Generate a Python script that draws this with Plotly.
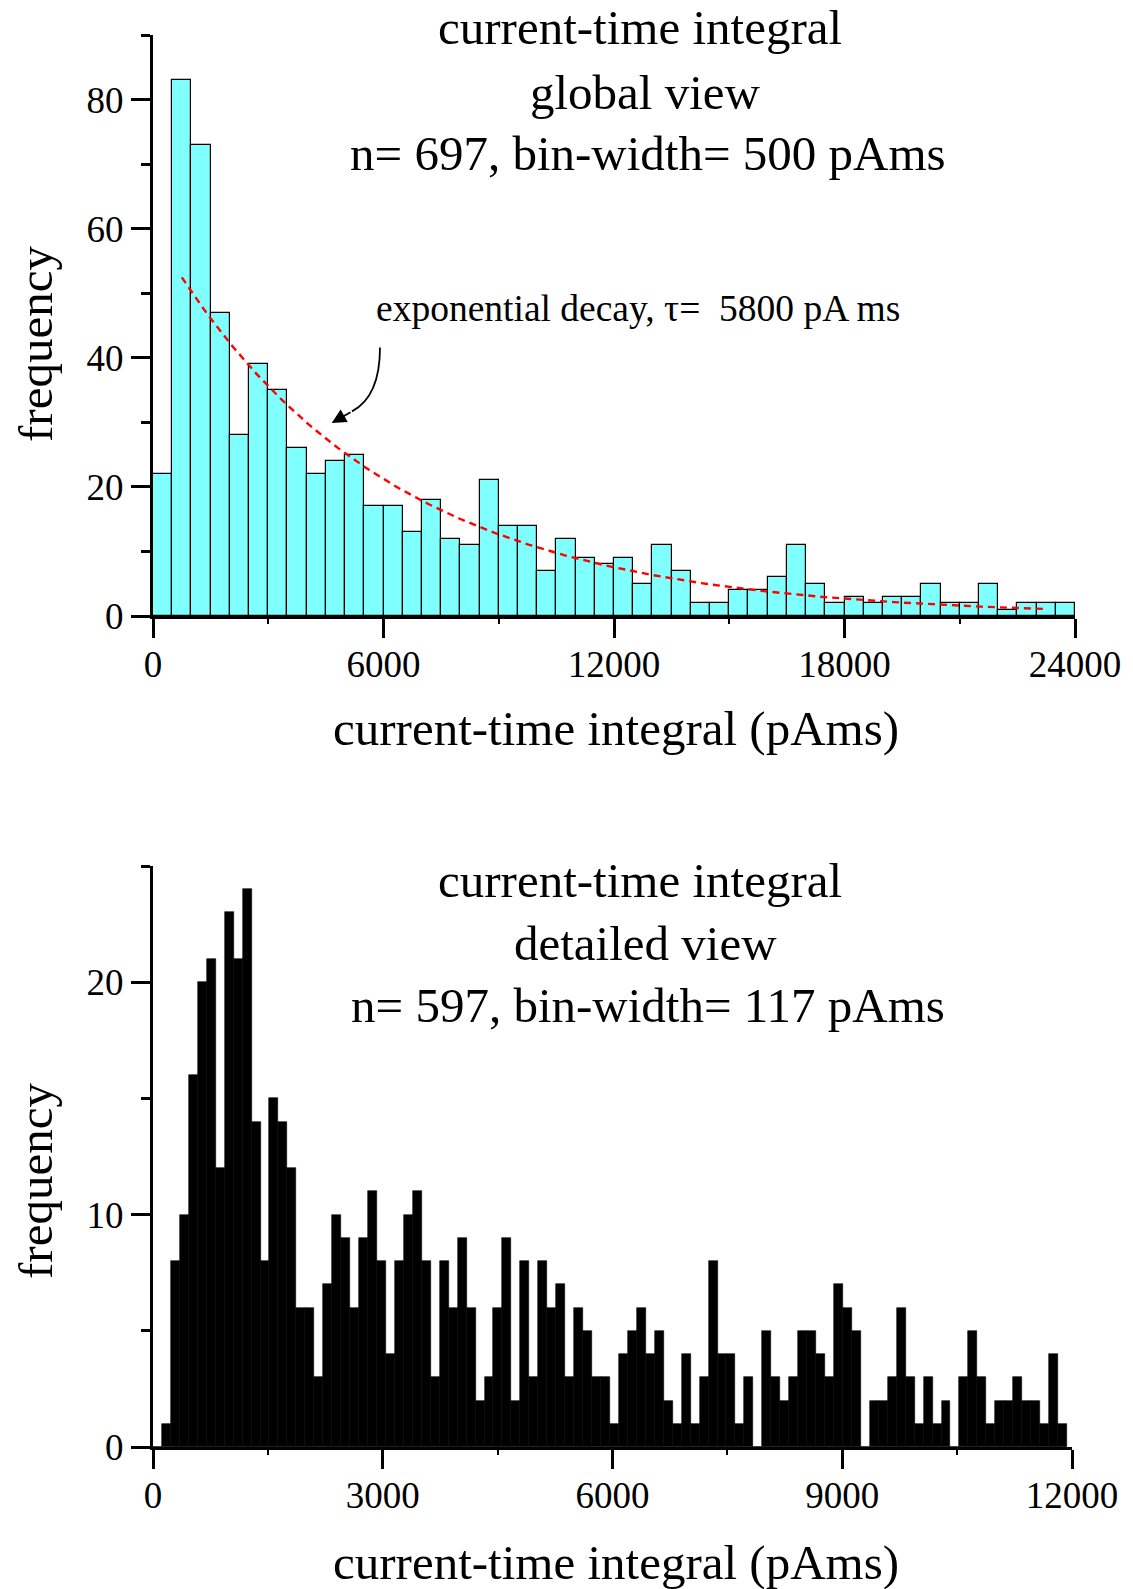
import numpy as np
import plotly.graph_objects as go

# ---------------- data ----------------
# global view: bin width 500 pAms, 0..24000
global_bin_width = 500
global_counts = [22, 83, 73, 47, 28, 39, 35, 26, 22, 24, 25, 17, 17, 13, 18, 12,
                 11, 21, 14, 14, 7, 12, 9, 8,
                 9, 5, 11, 7, 2, 2, 4, 4, 6, 11, 5, 2, 3, 2, 3, 3,
                 5, 2, 2, 5, 1, 2, 2, 2]

# detailed view: bin width 117 pAms, 0..~12000
detail_bin_width = 117
detail_counts = [0, 1, 8, 10, 16, 20, 21, 12, 23, 21, 24, 14, 8, 15, 14, 12,
                 6, 6, 3, 7, 10, 9, 6, 9, 11, 8, 4, 8, 10, 11, 8, 3,
                 8, 6, 9, 6, 2, 3, 6, 9, 2, 8, 3, 8, 6, 7, 3, 6,
                 5, 3, 3, 1, 4, 5, 6, 4, 5, 2, 1, 4, 1, 3, 8, 4,
                 4, 1, 3, 0, 5, 3, 2, 3, 5, 5, 4, 3, 7, 6, 5, 0,
                 2, 2, 3, 6, 3, 1, 3, 1, 2, 0, 3, 5, 3, 1, 2, 2,
                 3, 2, 2, 1, 4, 1]

# exponential decay fit
fit_tau = 5800
fit_amplitude = 59.7
fit_x_start = 750
fit_x_end = 23250

top_xticks = [0, 6000, 12000, 18000, 24000]
top_xticklabels = ["0", "6000", "12000", "18000", "24000"]
top_yticks = [0, 20, 40, 60, 80]
bot_xticks = [0, 3000, 6000, 9000, 12000]
bot_xticklabels = ["0", "3000", "6000", "9000", "12000"]
bot_yticks = [0, 10, 20]

FONT = "Liberation Serif"
W, H = 1133, 1589

g_centers = [global_bin_width * (i + 0.5) for i in range(len(global_counts))]
d_centers = [detail_bin_width * (i + 0.5) for i in range(len(detail_counts))]

fit_x = np.linspace(fit_x_start, fit_x_end, 200)
fit_y = fit_amplitude * np.exp(-fit_x / fit_tau)

fig = go.Figure()
fig.add_trace(go.Bar(x=g_centers, y=global_counts, width=global_bin_width,
                     marker=dict(color="#80FFFF", line=dict(color="black", width=1.2)),
                     xaxis="x", yaxis="y", showlegend=False))
fig.add_trace(go.Scatter(x=fit_x, y=fit_y, mode="lines",
                         line=dict(color="red", width=2.4, dash="7px,5px"),
                         xaxis="x", yaxis="y", showlegend=False))
fig.add_trace(go.Bar(x=d_centers, y=detail_counts, width=detail_bin_width,
                     marker=dict(color="black", line=dict(color="black", width=0.6)),
                     xaxis="x2", yaxis="y2", showlegend=False))


def px_x(p):
    return p / W


def px_y(p):
    return 1 - p / H


axis_common = dict(showgrid=False, zeroline=False, showline=True, linecolor="black",
                   linewidth=3, ticks="outside", tickcolor="black", tickwidth=2.5,
                   ticklen=19, automargin=False,
                   tickfont=dict(family=FONT, size=37, color="black"))

fig.update_layout(
    width=W, height=H, margin=dict(l=0, r=0, t=0, b=0, autoexpand=False),
    paper_bgcolor="white", plot_bgcolor="white", bargap=0,
    xaxis=dict(domain=[px_x(153), px_x(1075)], range=[0, 24000], anchor="y",
               tickvals=top_xticks, ticktext=top_xticklabels, ticklabelstandoff=-5,
               minor=dict(tickvals=[3000, 9000, 15000, 21000], ticklen=5,
                          tickwidth=2, tickcolor="black", ticks="outside"),
               **axis_common),
    yaxis=dict(domain=[px_y(616), px_y(35)], range=[0, 90], anchor="x",
               tickvals=top_yticks, ticklabelstandoff=0,
               minor=dict(tickvals=[10, 30, 50, 70, 90], ticklen=9,
                          tickwidth=2.5, tickcolor="black", ticks="outside"),
               **axis_common),
    xaxis2=dict(domain=[px_x(153), px_x(1072)], range=[0, 12000], anchor="y2",
                tickvals=bot_xticks, ticktext=bot_xticklabels, ticklabelstandoff=-5,
                minor=dict(tickvals=[1500, 4500, 7500, 10500], ticklen=5,
                           tickwidth=2, tickcolor="black", ticks="outside"),
                **axis_common),
    yaxis2=dict(domain=[px_y(1447), px_y(866)], range=[0, 25], anchor="x2",
                tickvals=bot_yticks, ticklabelstandoff=0,
                minor=dict(tickvals=[5, 15, 25], ticklen=9,
                           tickwidth=2.5, tickcolor="black", ticks="outside"),
                **axis_common),
)

annots = []


def text(x, y, s, size, angle=0):
    annots.append(dict(x=px_x(x), y=px_y(y), xref="paper", yref="paper", text=s,
                       showarrow=False, xanchor="center", yanchor="middle",
                       textangle=angle,
                       font=dict(family=FONT, size=size, color="black")))


text(640, 27.5, "current-time integral", 49)
text(645, 92, "global view", 49)
text(648, 154, "n= 697, bin-width= 500 pAms", 49)
text(640, 880.5, "current-time integral", 49)
text(645, 943.5, "detailed view", 49)
text(648, 1005, "n= 597, bin-width= 117 pAms", 49)
text(616, 728.5, "current-time integral (pAms)", 49)
text(616, 1562, "current-time integral (pAms)", 49)
text(35, 344, "frequency", 49, -90)
text(35, 1181, "frequency", 49, -90)
text(638, 309, "exponential decay, τ=  5800 pA ms", 37.5)

# arrowhead annotation (data coords of top axes)
annots.append(dict(x=4652, y=29.9, xref="x", yref="y", ax=5180, ay=31.7,
                   axref="x", ayref="y", showarrow=True, arrowhead=2,
                   arrowsize=1.6, arrowwidth=1.8, arrowcolor="black", text=""))
fig.update_layout(annotations=annots)

# curved arrow body
fig.add_shape(type="path", xref="x", yref="y",
              path="M 5909,41.6 Q 5909,34.0 5180,31.7",
              line=dict(color="black", width=1.8))

fig.write_html("out.html",
               config={"displayModeBar": False},
               post_script="document.body.style.margin='0';"
                           "document.documentElement.style.margin='0';"
                           "document.body.style.overflow='hidden';")
